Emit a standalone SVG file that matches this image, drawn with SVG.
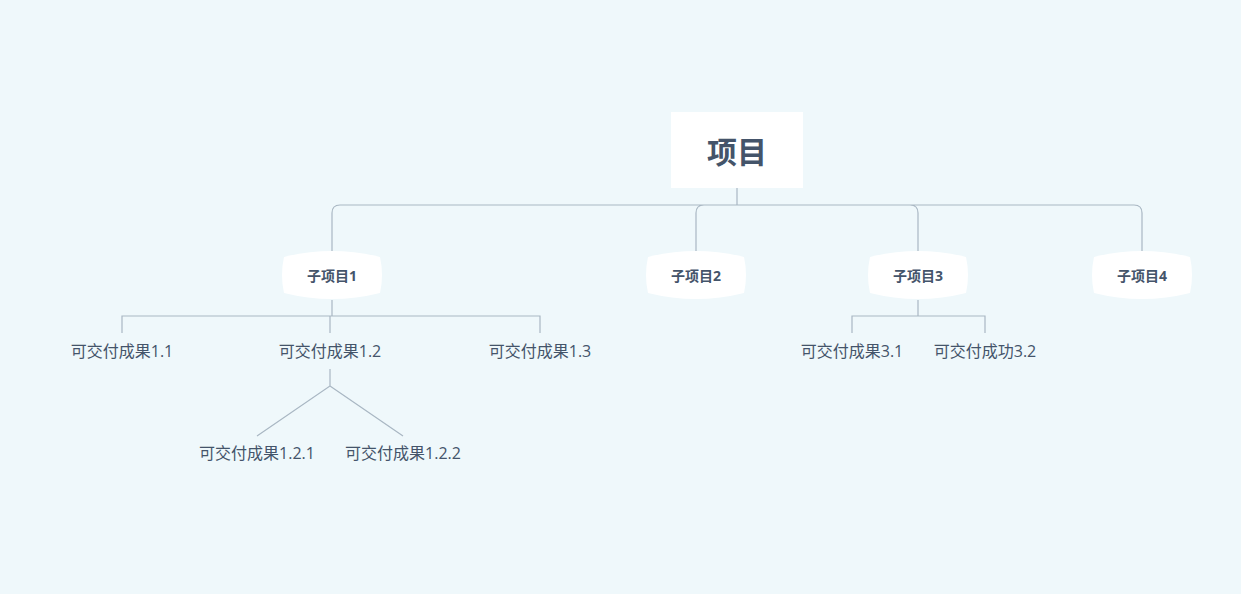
<svg xmlns="http://www.w3.org/2000/svg" width="1241" height="594" viewBox="0 0 1241 594">
<defs><style>
.c{fill:none;stroke:#a9b7c3;stroke-width:1.2}
.s{fill:#fff}
.t{font-family:"Open Sans","Noto Sans CJK SC",sans-serif;fill:#44546a;text-anchor:middle;dominant-baseline:central}
.sub{font-size:14px;font-weight:bold}
.leaf{font-size:16px}
</style>
<path id="barrel" d="M-48,-18 Q0,-30 48,-18 Q52,0 48,18 Q0,30 -48,18 Q-52,0 -48,-18Z"/>
</defs>
<rect width="1241" height="594" fill="#eff8fb"/>
<g id="connectors">
<path class="c" d="M737,188V205M332,251V213Q332,205 340,205H1134Q1142,205 1142,213V251M696,251V213Q696,205 704,205M910,205Q918,205 918,213V251"/>
<path class="c" d="M332,300V316M122,333V316H540V333M330,316V333"/>
<path class="c" d="M918,300V316M852,333V316H985V333"/>
<path class="c" d="M330,369V386L257,436M330,386L403,436"/>
</g>
<g id="root"><rect x="671" y="112" width="132" height="76" fill="#fff"/><text class="t" x="737" y="151" style="font-size:30px;font-weight:bold">项目</text></g>
<g id="n1" transform="translate(332,275)"><use href="#barrel" class="s"/><text class="t sub" x="0" y="0">子项目1</text></g>
<g id="n2" transform="translate(696,275)"><use href="#barrel" class="s"/><text class="t sub" x="0" y="0">子项目2</text></g>
<g id="n3" transform="translate(918,275)"><use href="#barrel" class="s"/><text class="t sub" x="0" y="0">子项目3</text></g>
<g id="n4" transform="translate(1142,275)"><use href="#barrel" class="s"/><text class="t sub" x="0" y="0">子项目4</text></g>
<g id="l11"><text class="t leaf" x="122" y="351">可交付成果1.1</text></g>
<g id="l12"><text class="t leaf" x="330" y="351">可交付成果1.2</text></g>
<g id="l13"><text class="t leaf" x="540" y="351">可交付成果1.3</text></g>
<g id="l31"><text class="t leaf" x="852" y="351">可交付成果3.1</text></g>
<g id="l32"><text class="t leaf" x="985" y="351">可交付成功3.2</text></g>
<g id="l121"><text class="t leaf" x="257" y="453">可交付成果1.2.1</text></g>
<g id="l122"><text class="t leaf" x="403" y="453">可交付成果1.2.2</text></g>
</svg>
